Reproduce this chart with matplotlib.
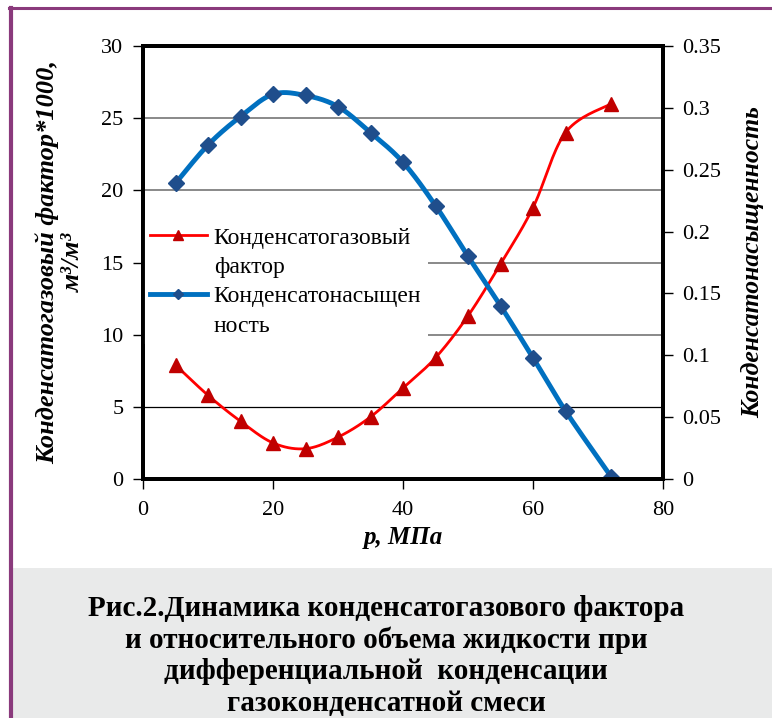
import numpy as np
import matplotlib
matplotlib.use("Agg")
import matplotlib.pyplot as plt
from matplotlib.patches import Rectangle
from matplotlib.lines import Line2D

# data
pressure = [5, 10, 15, 20, 25, 30, 35, 40, 45, 50, 55, 60, 65, 72]
cgf = [7.9, 5.8, 4.0, 2.5, 2.1, 2.9, 4.3, 6.3, 8.4, 11.3, 14.9, 18.8, 24.0, 26.0]
saturation = [0.239, 0.270, 0.293, 0.311, 0.310, 0.301, 0.280, 0.256, 0.221,
              0.180, 0.140, 0.098, 0.055, 0.002]

left_ticks = [0, 5, 10, 15, 20, 25, 30]
right_ticks = [0, 0.05, 0.1, 0.15, 0.2, 0.25, 0.3, 0.35]
right_labels = ["0", "0.05", "0.1", "0.15", "0.2", "0.25", "0.3", "0.35"]
x_ticks = [0, 20, 40, 60, 80]

legend_lines = ["Конденсатогазовый", "фактор", "Конденсатонасыщен", "ность"]

caption = ("Рис.2.Динамика конденсатогазового фактора\n"
           "и относительного объема жидкости при\n"
           "дифференциальной  конденсации\n"
           "газоконденсатной смеси")

plt.rcParams['font.family'] = ['Liberation Serif', 'DejaVu Serif']


def smooth(x, y, n=20):
    # bezier smoothing like the spreadsheet "smoothed line" option
    x = np.asarray(x, float)
    y = np.asarray(y, float)
    px, py = [], []
    for i in range(len(x) - 1):
        x0, y0 = (x[i - 1], y[i - 1]) if i > 0 else (x[i], y[i])
        x3, y3 = (x[i + 2], y[i + 2]) if i + 2 < len(x) else (x[i + 1], y[i + 1])
        c1x = x[i] + (x[i + 1] - x0) / 6
        c1y = y[i] + (y[i + 1] - y0) / 6
        c2x = x[i + 1] - (x3 - x[i]) / 6
        c2y = y[i + 1] - (y3 - y[i]) / 6
        t = np.linspace(0, 1, n)
        px.extend((1 - t) ** 3 * x[i] + 3 * (1 - t) ** 2 * t * c1x + 3 * (1 - t) * t ** 2 * c2x + t ** 3 * x[i + 1])
        py.extend((1 - t) ** 3 * y[i] + 3 * (1 - t) ** 2 * t * c1y + 3 * (1 - t) * t ** 2 * c2y + t ** 3 * y[i + 1])
    return px, py


fig = plt.figure(figsize=(7.72, 7.18), dpi=100)

# frame of the figure and caption background
fig.patches.append(Rectangle((12 / 772, 0), 1, 150 / 718, transform=fig.transFigure,
                             facecolor="#e9eaea", edgecolor="none", zorder=0))
fig.add_artist(Line2D([10.5 / 772, 10.5 / 772], [0, 1 - 8 / 718], color="#8a3a7c", lw=3,
                      transform=fig.transFigure))
fig.add_artist(Line2D([9 / 772, 1], [1 - 8 / 718, 1 - 8 / 718], color="#8a3a7c", lw=2.2,
                      transform=fig.transFigure))

ax1 = fig.add_axes([143 / 772, 1 - 479 / 718, 520 / 772, 433 / 718])
ax2 = ax1.twinx()

for val in left_ticks[1:-1]:
    ax1.axhline(val, color="black" if val == 5 else "#808080", lw=1.3 if val != 5 else 0.9, zorder=0)

sx, sy = smooth(pressure, cgf)
ax1.plot(sx, sy, color="#ff0000", lw=2, zorder=3)
ax1.plot(pressure, cgf, ls="none", marker="^", ms=10, color="#c00000", zorder=4)

bx, by = smooth(pressure, saturation)
ax2.plot(bx, by, color="#0070c0", lw=3.5, zorder=3)
ax2.plot(pressure, saturation, ls="none", marker="D", ms=8, color="#1f4e8c", zorder=4)

ax1.set_xlim(0, 80)
ax1.set_ylim(0, 30)
ax2.set_ylim(0, 0.35)
ax1.set_xticks(x_ticks)
ax1.set_yticks(left_ticks)
ax2.set_yticks(right_ticks)
ax2.set_yticklabels(right_labels)

for ax in (ax1, ax2):
    for s in ax.spines.values():
        s.set_linewidth(2.8)
        s.set_zorder(10)
    ax.tick_params(labelsize=16, length=7, width=1, direction="out", pad=7)
ax1.tick_params(axis="x", pad=9)

ax1.set_xlabel("p, МПа", fontsize=18, fontweight="bold", style="italic", labelpad=4)
ax1.set_ylabel("Конденсатогазовый фактор*1000,\nм³/м³", fontsize=19, fontweight="bold",
               style="italic", labelpad=12, linespacing=1.15)
ax2.set_ylabel("Конденсатонасыщенность", fontsize=18.5, fontweight="bold", style="italic",
               labelpad=14)

blank = Line2D([], [], lw=0)
handles = [Line2D([], [], color="#ff0000", lw=2, marker="^", ms=7, mfc="#c00000", mec="#c00000"),
           blank,
           Line2D([], [], color="#0070c0", lw=3.5, marker="D", ms=5, mfc="#1f4e8c", mec="#1f4e8c"),
           blank]
leg = ax2.legend(handles, legend_lines,
                 loc="upper left", bbox_to_anchor=(0.0, 0.598), fontsize=17, frameon=True,
                 facecolor="white", edgecolor="none", framealpha=1, handlelength=2.4,
                 handletextpad=0.3, borderaxespad=0.0, borderpad=0.3, labelspacing=0.33,
                 fancybox=False)
leg.set_zorder(5)

fig.text(0.5, 1 - 656 / 718, caption, ha="center", va="center", fontsize=21, fontweight="bold",
         linespacing=1.2)

fig.savefig("out.png", dpi=100, facecolor="white")
